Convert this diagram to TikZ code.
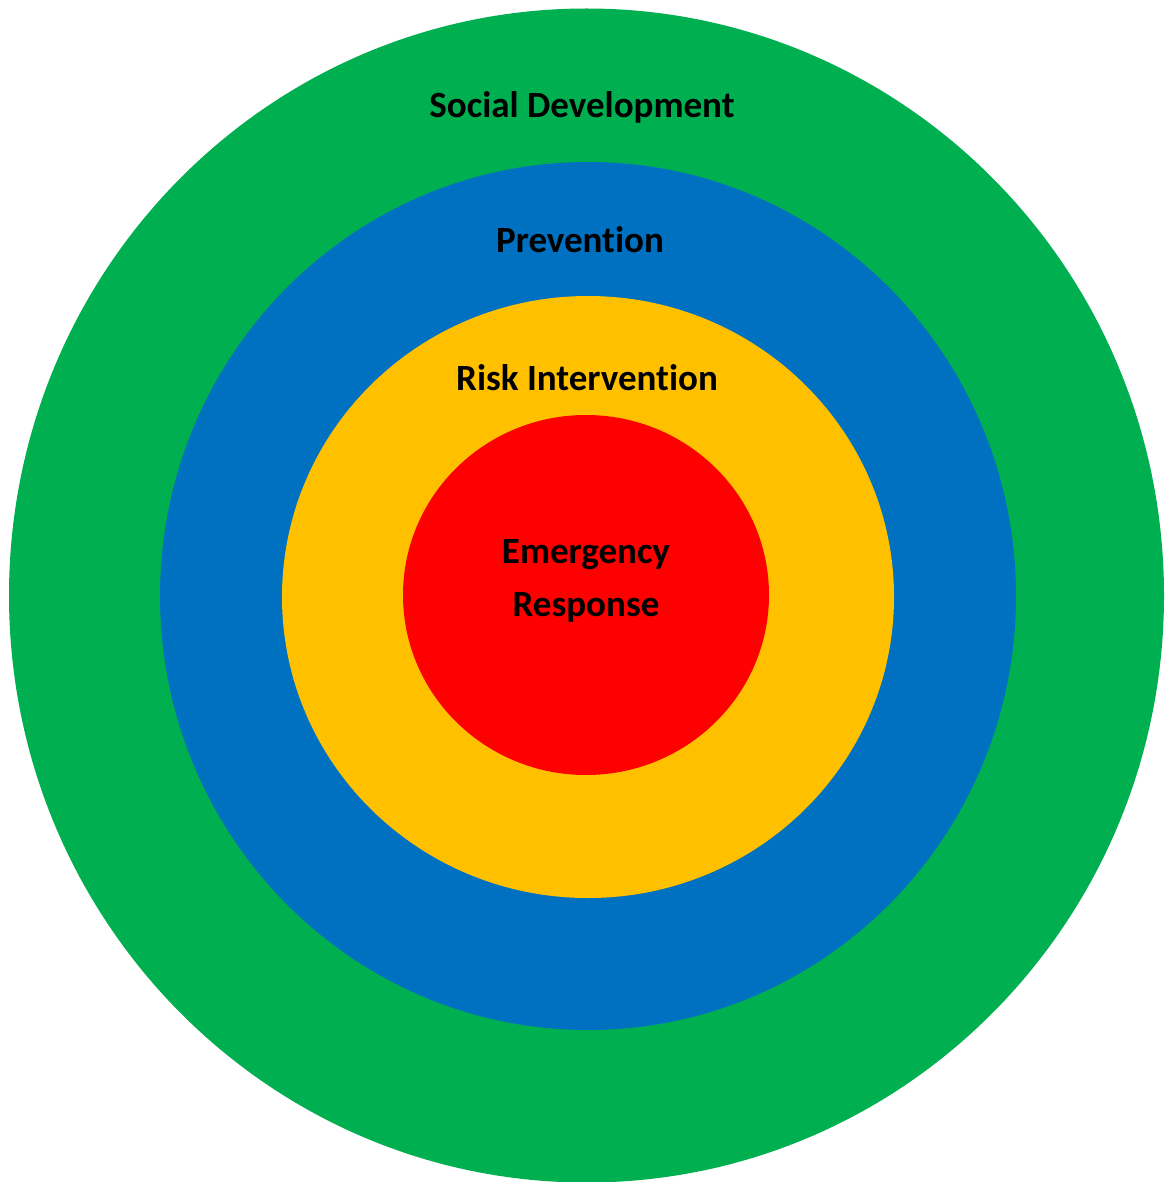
\documentclass[tikz,border=0pt]{standalone}
\usepackage{fontspec}
\setmainfont{Carlito}[Ligatures=NoCommon,RawFeature=-liga]
\definecolor{cgreen}{HTML}{00B050}
\definecolor{cblue}{HTML}{0070C0}
\definecolor{cyellow}{HTML}{FFC000}
\definecolor{cred}{HTML}{FF0000}
\tikzset{ring/.style={draw=none},
  lbl/.style={font=\fontsize{37}{53}\selectfont\bfseries, text=black, inner sep=0pt, align=center}}
\begin{document}
\begin{tikzpicture}[x=1pt,y=-1pt]
\useasboundingbox (0,0) rectangle (1164,1182);
\fill[cgreen] (586.5,595.5) ellipse [x radius=577.5, y radius=587];
\fill[cblue] (588,596) ellipse [x radius=428, y radius=434];
\fill[cyellow] (588,597) ellipse [x radius=306, y radius=301];
\fill[cred] (586,595) ellipse [x radius=183, y radius=180];
\node[lbl] (sd) at (582,107) {Social Development};
\node[lbl] (pv) at (580,240) {Prevention};
\node[lbl] (ri) at (587,378) {Risk Intervention};
\node[lbl] (er) at (586,581) {Emergency\\Response};
\end{tikzpicture}
\end{document}
